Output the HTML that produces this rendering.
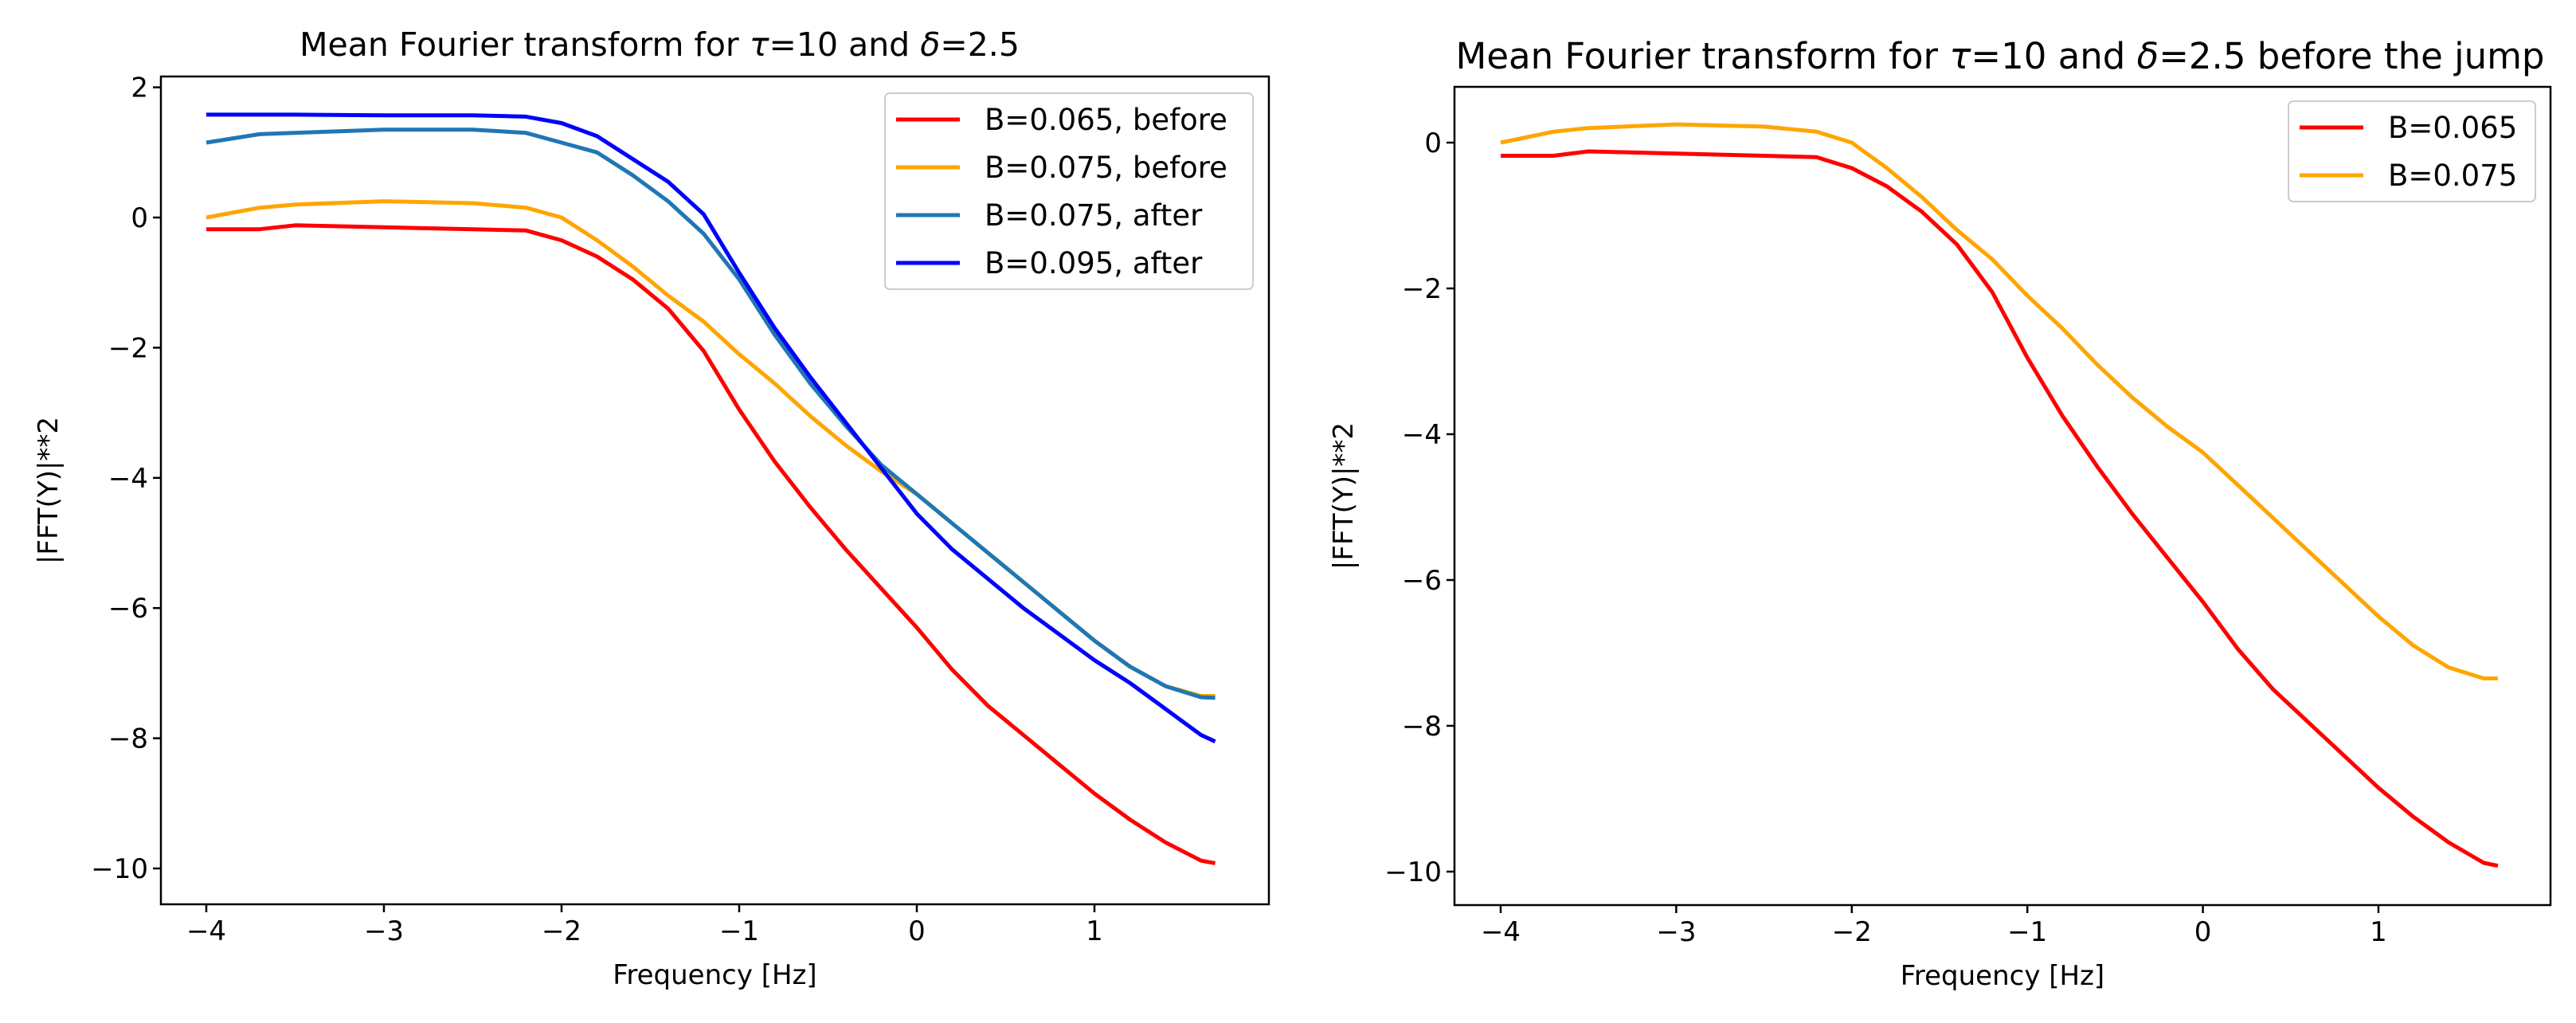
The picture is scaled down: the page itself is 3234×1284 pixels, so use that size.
<!DOCTYPE html>
<html><head><meta charset="utf-8"><style>
body{margin:0;background:#fff;overflow:hidden;}
svg text{font-family:"DejaVu Sans","Liberation Sans",sans-serif;fill:#000;}
</style></head><body>
<svg id="fig" width="3234" height="1279" viewBox="0 0 3234 1279" xmlns="http://www.w3.org/2000/svg"></svg>
<script>
const freq = [-4,-3.7,-3.5,-3,-2.5,-2.2,-2,-1.8,-1.6,-1.4,-1.2,-1,-0.8,-0.6,-0.4,-0.2,0,0.2,0.4,0.6,0.8,1,1.2,1.4,1.6,1.68];
const red065 = [-0.18,-0.18,-0.12,-0.15,-0.18,-0.2,-0.35,-0.6,-0.95,-1.4,-2.05,-2.95,-3.75,-4.45,-5.1,-5.7,-6.3,-6.95,-7.5,-7.95,-8.4,-8.85,-9.25,-9.6,-9.88,-9.92];
const orange075 = [0.0,0.15,0.2,0.25,0.22,0.15,0.0,-0.35,-0.75,-1.2,-1.6,-2.1,-2.55,-3.05,-3.5,-3.9,-4.25,-4.7,-5.15,-5.6,-6.05,-6.5,-6.9,-7.2,-7.35,-7.35];
const teal075 = [1.15,1.28,1.3,1.35,1.35,1.3,1.15,1.0,0.65,0.25,-0.25,-0.95,-1.8,-2.55,-3.2,-3.8,-4.25,-4.7,-5.15,-5.6,-6.05,-6.5,-6.9,-7.2,-7.37,-7.38];
const blue095 = [1.58,1.58,1.58,1.57,1.57,1.55,1.45,1.25,0.9,0.55,0.05,-0.85,-1.7,-2.45,-3.15,-3.85,-4.55,-5.1,-5.55,-6.0,-6.4,-6.8,-7.15,-7.55,-7.95,-8.05];
const xTicks = [-4,-3,-2,-1,0,1];
const yTicksL = [2,0,-2,-4,-6,-8,-10];
const yTicksR = [0,-2,-4,-6,-8,-10];

const NS="http://www.w3.org/2000/svg";
const svg=document.getElementById('fig');
function mk(tag,attrs,parent){const e=document.createElementNS(NS,tag);for(const k in attrs)e.setAttribute(k,attrs[k]);(parent||svg).appendChild(e);return e;}
function fmt(v){return v<0?'\u2212'+(-v):String(v);}

function panel(cfg){
  const g=mk('g',{});
  
  
  const sx=v=>cfg.x0+(v-(-4))*cfg.xu;
  const sy=v=>cfg.y0-v*cfg.yu;
  const t=mk('text',{x:cfg.titleX,y:cfg.titleY,'font-size':cfg.titleSize,'text-anchor':'middle'},g);
  t.innerHTML=cfg.title;
  
  
  cfg.series.forEach(s=>{
    const d=freq.map((f,i)=>(i?'L':'M')+sx(f).toFixed(1)+','+sy(s.data[i]).toFixed(1)).join(' ');
    const p=mk('path',{d:d,fill:'none',stroke:s.color,'stroke-width':5,'stroke-linejoin':'round'},g);
    
    
  });
  const box=mk('rect',{x:cfg.L,y:cfg.T,width:cfg.R-cfg.L,height:cfg.B-cfg.T,fill:'none',stroke:'#000','stroke-width':2.5},g);
  
  
  xTicks.forEach(v=>{
    const x=sx(v);
    mk('line',{x1:x,x2:x,y1:cfg.B,y2:cfg.B+10,stroke:'#000','stroke-width':2.5},g);
    const tx=mk('text',{x:x,y:cfg.B+45,'font-size':34,'text-anchor':'middle'},g);
    tx.textContent=fmt(v);
    
    
  });
  cfg.yTicks.forEach(v=>{
    const y=sy(v);
    mk('line',{x1:cfg.L-10,x2:cfg.L,y1:y,y2:y,stroke:'#000','stroke-width':2.5},g);
    const ty=mk('text',{x:cfg.L-16,y:y+12,'font-size':34,'text-anchor':'end'},g);
    ty.textContent=fmt(v);
    
    
  });
  const xl=mk('text',{x:(cfg.L+cfg.R)/2,y:cfg.B+100,'font-size':34,'text-anchor':'middle'},g);
  xl.textContent='Frequency [Hz]';
  
  
  const yl=mk('text',{x:0,y:0,'font-size':34,'text-anchor':'middle',transform:'translate('+(cfg.ylX)+','+((cfg.T+cfg.B)/2)+') rotate(-90)'},g);
  yl.textContent='|FFT(Y)|**2';
  
  
  const lg=mk('g',{},g);
  
  
  const n=cfg.series.length;
  mk('rect',{x:cfg.legX,y:cfg.legY,width:cfg.legW,height:n*60+6,rx:6,fill:'#fff','fill-opacity':0.8,stroke:'#ccc','stroke-width':2},lg);
  cfg.series.forEach((s,i)=>{
    const y=cfg.legY+33+i*60;
    mk('line',{x1:cfg.legX+14,x2:cfg.legX+94,y1:y,y2:y,stroke:s.color,'stroke-width':5},lg);
    const lt=mk('text',{x:cfg.legX+125,y:y+13,'font-size':37},lg);
    lt.textContent=s.label;
    
    
  });
}
const sR={id:'line-b0065-before',data:red065,color:'#ff0000'};
const sO={id:'line-b0075-before',data:orange075,color:'#ffa500'};
panel({name:'left-chart',L:202,R:1593,T:96,B:1135,x0:259,xu:223,y0:273,yu:81.7,yTicks:yTicksL,titleX:828,titleY:70,titleSize:41,ylX:72,
  title:'Mean Fourier transform for <tspan font-style="italic">τ</tspan>=10 and <tspan font-style="italic">δ</tspan>=2.5',
  legX:1111,legY:117,legW:462,
  series:[Object.assign({label:'B=0.065, before'},sR),Object.assign({label:'B=0.075, before'},sO),
    {id:'line-b0075-after',data:teal075,color:'#1f77b4',label:'B=0.075, after'},
    {id:'line-b0095-after',data:blue095,color:'#0000ff',label:'B=0.095, after'}]});
panel({name:'right-chart',L:1826,R:3202,T:109,B:1136,x0:1884,xu:220.4,y0:179,yu:91.5,yTicks:yTicksR,titleX:2511,titleY:86,titleSize:45,ylX:1698,
  title:'Mean Fourier transform for <tspan font-style="italic">τ</tspan>=10 and <tspan font-style="italic">δ</tspan>=2.5 before the jump',
  legX:2873,legY:127,legW:310,
  series:[Object.assign({label:'B=0.065'},sR),Object.assign({label:'B=0.075'},sO)]});
</script>
</body></html>
